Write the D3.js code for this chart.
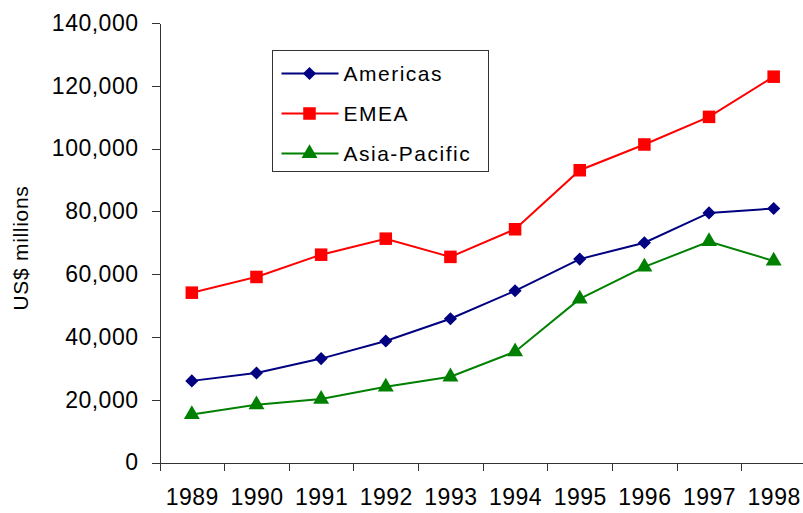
<!DOCTYPE html>
<html lang="en">
<meta charset="utf-8">
<title>Revenue by region</title>
<script src="https://cdn.jsdelivr.net/npm/d3@7"></script>
<style>
  body { margin: 0; background: #fff; }
  svg { display: block; font-family: "Liberation Sans", Arial, sans-serif; }
  .axis path, .axis line { stroke: #333; shape-rendering: crispEdges; }
</style>
<svg width="803" height="513"></svg>
<script>
// data (US$ millions)
var years = ["1989", "1990", "1991", "1992", "1993", "1994", "1995", "1996", "1997", "1998"];
var americas = [26000, 28500, 33100, 38700, 45800, 54700, 64800, 70000, 79500, 80900];
var emea = [54100, 59100, 66200, 71300, 65500, 74300, 93100, 101300, 110100, 122900];
var asiaPacific = [15300, 18400, 20200, 24100, 27300, 35300, 52100, 62300, 70400, 64200];
var yTicks = [0, 20000, 40000, 60000, 80000, 100000, 120000, 140000];
var seriesNames = ["Americas", "EMEA", "Asia-Pacific"];

var series = [
  {name: seriesNames[0], values: americas, color: "#000080", symbol: d3.symbolDiamond2, size: 110},
  {name: seriesNames[1], values: emea, color: "#ff0000", symbol: d3.symbolSquare2, size: 200},
  {name: seriesNames[2], values: asiaPacific, color: "#008000", symbol: d3.symbolTriangle, size: 110}
];

var svg = d3.select("svg");
var plot = {left: 159.5, right: 806, top: 23, bottom: 462.5};

var x = d3.scaleBand().domain(years).range([plot.left, plot.right]);
var xb = d3.scaleLinear().domain([0, years.length]).range([plot.left, plot.right]);
var y = d3.scaleLinear().domain([0, 140000]).range([plot.bottom, plot.top]);

// y axis
svg.append("g")
    .attr("class", "axis")
    .attr("transform", "translate(" + plot.left + ",0)")
    .call(d3.axisLeft(y).tickValues(yTicks).tickFormat(d3.format(",")).tickSize(8).tickSizeOuter(0).tickPadding(13))
    .selectAll("text")
      .attr("font-size", 23)
      .attr("letter-spacing", 0.5)
      .attr("fill", "#000")
      .attr("font-family", "Liberation Sans, Arial, sans-serif");

// x axis: ticks between categories, labels at centres
svg.append("g")
    .attr("class", "axis")
    .attr("transform", "translate(0," + plot.bottom + ")")
    .call(d3.axisBottom(xb).tickValues(d3.range(0, years.length)).tickFormat("").tickSize(8).tickSizeOuter(0));

svg.append("g")
    .selectAll("text")
    .data(years)
    .enter().append("text")
      .attr("x", function(d) { return x(d) + x.bandwidth() / 2 + 0.5; })
      .attr("y", 505)
      .attr("text-anchor", "middle")
      .attr("font-size", 23)
      .attr("letter-spacing", 0.5)
      .text(function(d) { return d; });

// y title
svg.append("text")
    .attr("transform", "translate(28,248) rotate(-90)")
    .attr("text-anchor", "middle")
    .attr("font-size", 21)
    .attr("letter-spacing", 0.7)
    .text("US$ millions");

// lines + markers
var line = d3.line()
    .x(function(d, i) { return x(years[i]) + x.bandwidth() / 2; })
    .y(function(d) { return y(d); });

var g = svg.append("g");
series.forEach(function(s) {
  g.append("path")
      .attr("d", line(s.values))
      .attr("fill", "none")
      .attr("stroke", s.color)
      .attr("stroke-width", 2);
  g.selectAll(null)
      .data(s.values)
      .enter().append("path")
        .attr("transform", function(d, i) { return "translate(" + (x(years[i]) + x.bandwidth() / 2) + "," + y(d) + ")"; })
        .attr("d", d3.symbol().type(s.symbol).size(s.size))
        .attr("fill", s.color);
});

// legend
var legend = svg.append("g").attr("transform", "translate(272.5,50.5)");
legend.append("rect")
    .attr("width", 216)
    .attr("height", 121)
    .attr("fill", "#fff")
    .attr("stroke", "#333");

var item = legend.selectAll("g")
    .data(series)
    .enter().append("g")
      .attr("transform", function(d, i) { return "translate(0," + (23 + i * 40) + ")"; });

item.append("line")
    .attr("x1", 9).attr("x2", 66)
    .attr("stroke", function(d) { return d.color; })
    .attr("stroke-width", 2);
item.append("path")
    .attr("transform", "translate(37,0)")
    .attr("d", function(d) { return d3.symbol().type(d.symbol).size(d.size)(); })
    .attr("fill", function(d) { return d.color; });
item.append("text")
    .attr("x", 71)
    .attr("dy", "0.35em")
    .attr("font-size", 21)
    .attr("letter-spacing", 1.5)
    .text(function(d) { return d.name; });
</script>
</html>
